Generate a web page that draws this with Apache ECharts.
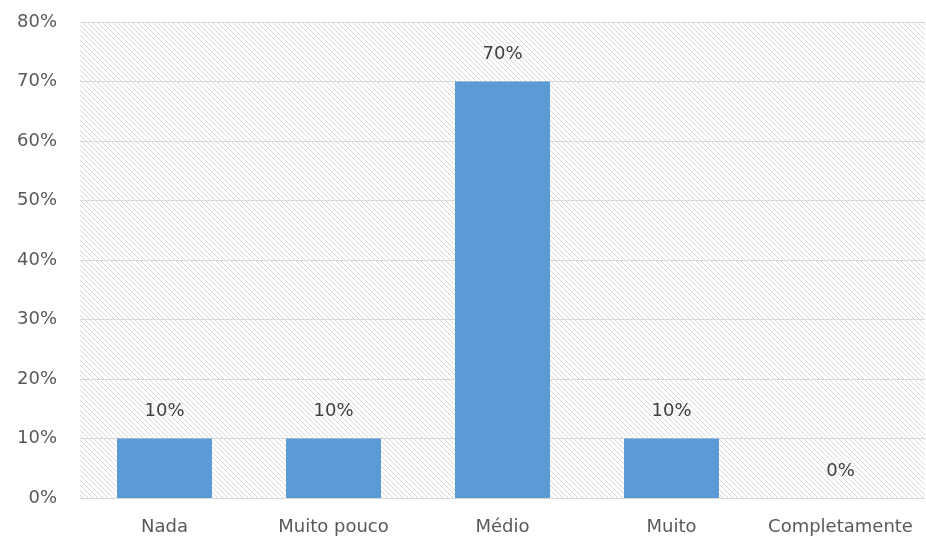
<!DOCTYPE html>
<html><head><meta charset="utf-8">
<script src="https://cdn.jsdelivr.net/npm/echarts@6/dist/echarts.min.js"></script>
<style>html,body{margin:0;padding:0;background:#fff}#c{width:926px;height:540px}</style>
</head><body><div id="c"></div>
<script>
var categories = ['Nada', 'Muito pouco', 'Médio', 'Muito', 'Completamente'];
var values = [10, 10, 70, 10, 0];
var yTicks = [0, 10, 20, 30, 40, 50, 60, 70, 80];

var tile = document.createElement('canvas');
tile.width = 5; tile.height = 5;
var tc = tile.getContext('2d');
tc.fillStyle = '#ffffff'; tc.fillRect(0, 0, 5, 5);
tc.fillStyle = '#d9d9d9';
for (var i = 0; i < 5; i++) tc.fillRect(i, i, 1, 1);

var chart = echarts.init(document.getElementById('c'));
var font = 'DejaVu Sans, sans-serif';
chart.setOption({
  animation: false,
  grid: { left: 80, right: 1, top: 22, bottom: 42, show: true, borderWidth: 0,
          backgroundColor: { image: tile, repeat: 'repeat' } },
  xAxis: { type: 'category', data: categories,
    axisLine: { lineStyle: { color: '#d9d9d9', width: 1 } },
    axisTick: { show: false },
    axisLabel: { interval: 0, color: '#595959', fontSize: 18, fontFamily: font, margin: 20 } },
  yAxis: { type: 'value', min: yTicks[0], max: yTicks[yTicks.length - 1], interval: 10,
    axisLine: { show: false }, axisTick: { show: false },
    splitLine: { lineStyle: { color: '#d9d9d9', width: 1 } },
    axisLabel: { color: '#595959', fontSize: 18, fontFamily: font, margin: 23,
      formatter: function (v) { return v + '%'; } } },
  series: [{ type: 'bar', data: values, barWidth: 95,
    itemStyle: { color: '#5b9bd5' },
    label: { show: true, position: 'top', distance: 18, color: '#404040', fontSize: 18, fontFamily: font,
      formatter: function (p) { return p.value + '%'; } } }]
});
</script></body></html>
